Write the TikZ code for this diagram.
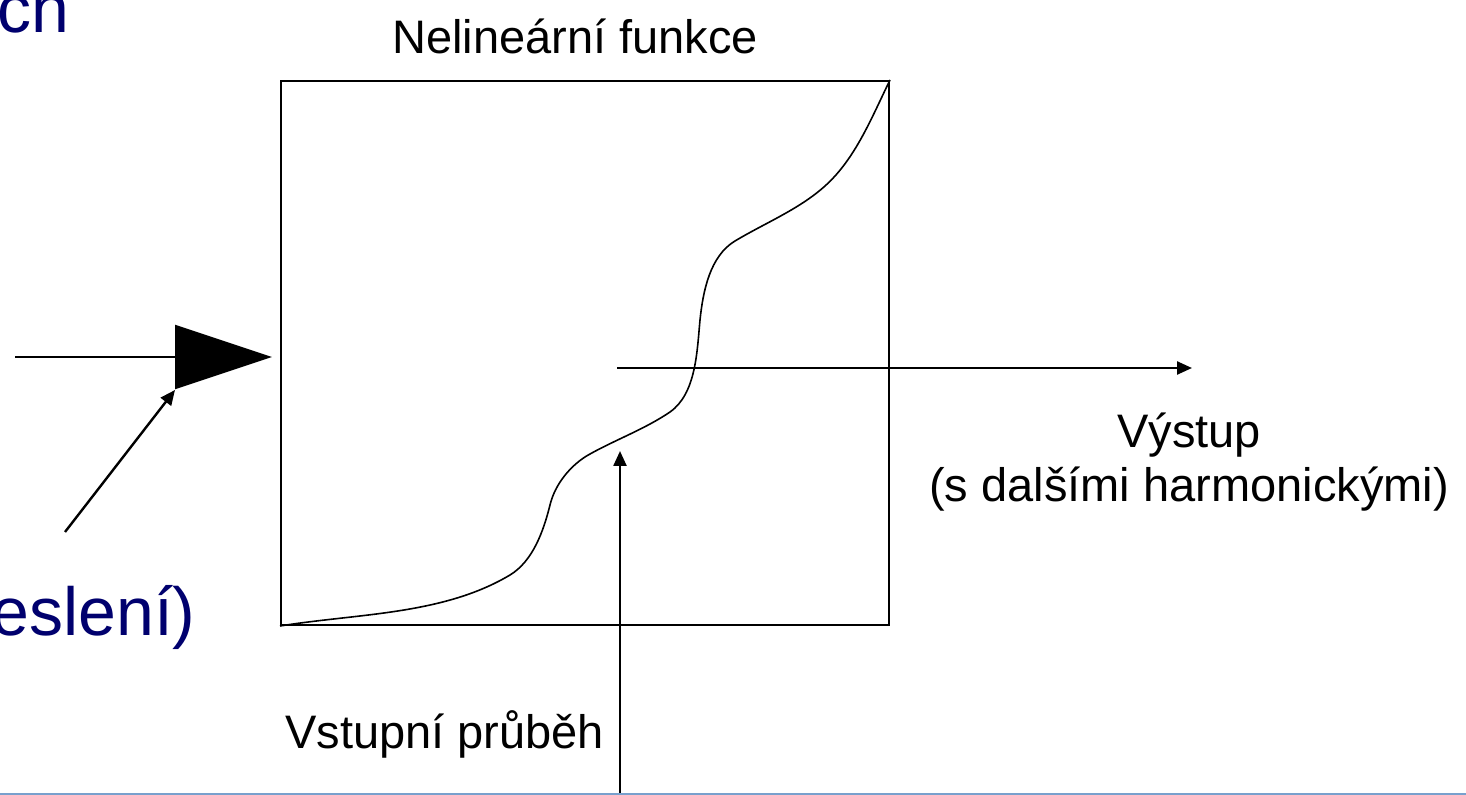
\documentclass[tikz,border=0pt]{standalone}
\usepackage{fontspec}
\setmainfont{Liberation Sans}
\usetikzlibrary{arrows.meta}
\definecolor{navy}{RGB}{0,0,110}
\definecolor{rule}{RGB}{120,160,205}
\tikzset{
  lbl/.style={font=\fontsize{23.5pt}{27pt}\selectfont, inner sep=0pt},
  big/.style={font=\fontsize{34pt}{40pt}\selectfont, text=navy, inner sep=0pt},
  conn/.style={line width=1.2pt, -{Triangle[length=7.5pt,width=6.5pt]}},
  frame/.style={draw, line width=1pt, minimum width=304pt, minimum height=272pt, inner sep=0pt},
  curvel/.style={line width=0.8pt, line join=round}
}
\begin{document}
\begin{tikzpicture}[x=0.5pt,y=-0.5pt]
\useasboundingbox (0,0) rectangle (1466,795);
\clip (0,0) rectangle (1466,795);
% partial texts at the edges
\node[big, anchor=base east] (ch) at (70,33) {ch};
\node[big, anchor=base east] (esl) at (196,636) {eslení)};
% box
\node[frame] (box) at (585,353) {};
% curve
\draw[curvel] (box.south west)
  .. controls (358,613.4) and (443,615) .. (510,575)
  .. controls (533,561) and (543.5,531) .. (550,505)
  .. controls (555,484) and (571,464.4) .. (590,454)
  .. controls (616,439.5) and (645,429) .. (670,412)
  .. controls (696,393.7) and (697,352) .. (700,320)
  .. controls (703,291) and (710,256) .. (735,241)
  .. controls (765,223) and (799,209.4) .. (825,186)
  .. controls (855.5,158.6) and (871.4,118) .. (box.north east);
% labels
\node[lbl, anchor=base] (nf) at (575,54) {Nelineární funkce};
\node[lbl, anchor=base west] (vp) at (285,748) {Vstupní průběh};
\node[lbl, align=center, anchor=north] (vy) at (1189,412) {Výstup\\(s dalšími harmonickými)};
% output arrow
\coordinate (os) at (617,368);
\coordinate (oe) at (1192,368);
\draw[conn] (os) -- (oe);
% input arrow
\coordinate (is) at (620,800);
\coordinate (ie) at (620,451);
\draw[conn] (is) -- (ie);
% left big arrow
\coordinate (ls) at (15,357);
\coordinate (lt) at (272,357);
\draw[line width=1.2pt, -{Triangle[length=48.5pt,width=32pt]}] (ls) -- (lt);
\coordinate (ds) at (65,532);
\coordinate (de) at (175,390);
\draw[conn] (ds) -- (de);
% bottom rule
\draw[rule, line width=1.5pt] (0,794) -- (1466,794);
\end{tikzpicture}
\end{document}
